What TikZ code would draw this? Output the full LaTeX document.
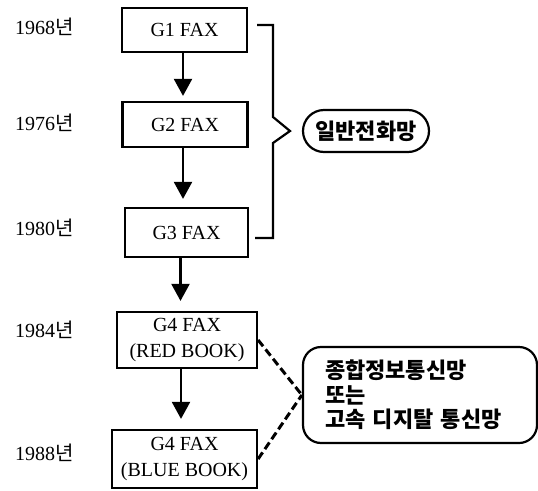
\documentclass[tikz,border=0pt]{standalone}
\usepackage{fontspec}
\setmainfont{Liberation Serif}
\newfontfamily\kr{Noto Sans CJK KR}
\usetikzlibrary{arrows.meta,shapes.misc}
\tikzset{
  fax/.style={draw,line width=2.2pt,inner sep=0pt,align=center,font=\fontsize{20}{26}\selectfont},
  yr/.style={anchor=west,inner sep=0pt,font=\fontsize{20}{22}\selectfont},
  arr/.style={line width=2.2pt,-{Triangle[width=18pt,length=17pt]}},
  brk/.style={line width=2.2pt},
  dsh/.style={line width=3pt,dash pattern=on 8pt off 4pt},
  kor/.style={font=\kr\bfseries\fontsize{22}{24.5}\selectfont}
}
\begin{document}
\begin{tikzpicture}[x=1pt,y=-1pt]
\useasboundingbox (0,0) rectangle (538,490);
% boxes
\node[fax,minimum width=125pt,minimum height=44pt] (g1) at (184.5,30) {G1 FAX};
\node[fax,minimum width=125pt,minimum height=45pt] (g2) at (185,124.5) {G2 FAX};
\node[fax,minimum width=123pt,minimum height=49pt] (g3) at (186.5,232.5) {G3 FAX};
\node[fax,minimum width=140pt,minimum height=56pt] (g4r) at (187,340) {G4 FAX\\(RED BOOK)};
\node[fax,minimum width=145pt,minimum height=58pt] (g4b) at (184.5,459) {G4 FAX\\(BLUE BOOK)};
% years
\node[yr] (y1) at (15,27) {1968{\kr 년}};
\node[yr] (y2) at (15,123) {1976{\kr 년}};
\node[yr] (y3) at (15,228) {1980{\kr 년}};
\node[yr] (y4) at (15,330) {1984{\kr 년}};
\node[yr] (y5) at (15,453) {1988{\kr 년}};
% arrows
\draw[arr,shorten >=5pt] ([xshift=-1.5pt]g1.south) -- ([xshift=-1.5pt]g1.south |- g2.north);
\draw[arr,shorten >=8pt] ([xshift=-2pt]g2.south) -- ([xshift=-2pt]g2.south |- g3.north);
\draw[arr,shorten >=10pt] ([xshift=-6pt]g3.south) -- ([xshift=-6pt]g3.south |- g4r.north);
\draw[arr,shorten >=10pt] ([xshift=-6pt]g4r.south) -- ([xshift=-6pt]g4r.south |- g4b.north);
% labels
\node[kor,draw,line width=2.2pt,rounded rectangle,minimum width=128pt,minimum height=42pt,inner sep=1pt] (l1) at (366,131) {일반전화망};
\node[kor,draw,line width=2.2pt,rounded corners=18pt,minimum width=234pt,minimum height=96pt,text width=190pt,align=left,inner sep=0pt] (l2) at (420,395) {종합정보통신망\\또는\\고속 디지탈 통신망};
% bracket
\coordinate (bt) at (257,25);
\coordinate (bb) at (255,238);
\draw[brk] (bt) -- (273,25) -- (273,117) -- (l1.west -| 290,0) -- (273,143) -- (273,238) -- (bb);
% dashed connectors
\draw[dsh] (g4r.east) -- (l2.west);
\draw[dsh] (g4b.east) -- (l2.west);
\end{tikzpicture}
\end{document}
